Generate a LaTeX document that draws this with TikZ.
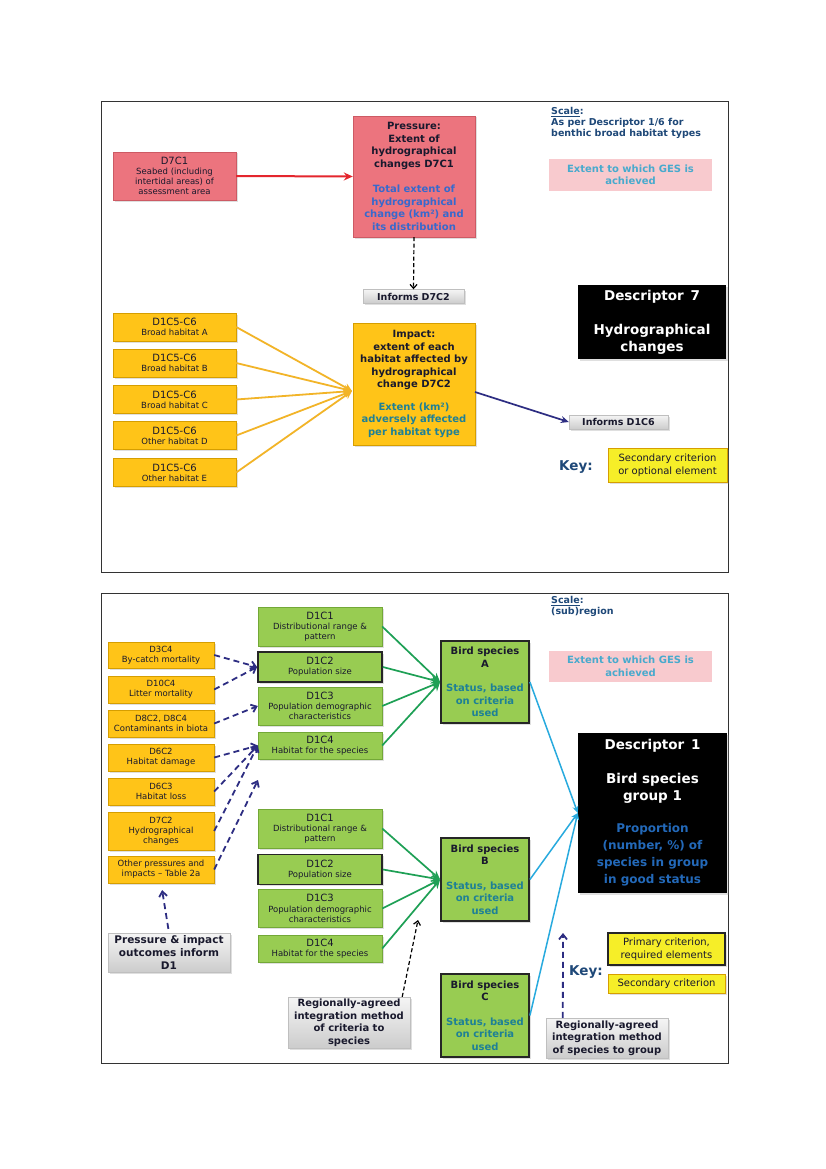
\documentclass[tikz,border=0pt]{standalone}
\usepackage{fontspec}
\setmainfont{DejaVu Sans}
\usetikzlibrary{arrows.meta,shadows}

\definecolor{ink}{RGB}{25,25,45}
\definecolor{salmon}{RGB}{236,116,126}
\definecolor{salmonline}{RGB}{205,90,100}
\definecolor{gold}{RGB}{255,196,24}
\definecolor{goldline}{RGB}{214,158,0}
\definecolor{leaf}{RGB}{152,204,82}
\definecolor{leafline}{RGB}{115,168,55}
\definecolor{gespink}{RGB}{248,202,206}
\definecolor{gesblue}{RGB}{72,170,205}
\definecolor{keyyellow}{RGB}{246,238,40}
\definecolor{scaleblue}{RGB}{30,72,120}
\definecolor{txtblue}{RGB}{55,105,205}
\definecolor{txtteal}{RGB}{30,128,150}
\definecolor{propblue}{RGB}{35,105,185}
\definecolor{arrred}{RGB}{228,38,45}
\definecolor{arrgold}{RGB}{242,180,40}
\definecolor{arrnavy}{RGB}{45,45,130}
\definecolor{arrgreen}{RGB}{30,160,85}
\definecolor{arrblue}{RGB}{40,170,222}

\newcommand\smtxt{\fontsize{8.5}{10.2}\selectfont}
\newcommand\mdtxt{\fontsize{10}{12.5}\selectfont}
\newcommand\lgtxt{\fontsize{13.5}{17}\selectfont}
\newcommand\bl[1]{\textcolor{txtblue}{#1}}
\newcommand\tl[1]{\textcolor{txtteal}{#1}}
\newcommand\pb[1]{\textcolor{propblue}{\fontsize{12}{16}\selectfont #1}}

\begin{document}
\begin{tikzpicture}[x=1pt,y=-1pt,
  sh/.style={drop shadow={shadow xshift=1.5pt,shadow yshift=-1.5pt,opacity=.25}},
  frame/.style={draw=black!80, line width=0.8pt},
  redbox/.style={sh, draw=salmonline, fill=salmon, text=ink, align=center, inner sep=1pt},
  goldbox/.style={sh, draw=goldline, fill=gold, text=ink, align=center, inner sep=1pt},
  critbox/.style={sh, draw=leafline, fill=leaf, text=ink, align=center, inner sep=1pt},
  birdbox/.style={sh, draw=black!85, line width=1.8pt, fill=leaf, text=ink, align=center, inner sep=1pt},
  blackbox/.style={sh, fill=black, text=white, align=center, inner sep=1pt},
  greybox/.style={sh, draw=gray!50, top color=gray!8, bottom color=gray!40, text=ink, align=center, inner sep=1pt},
  gesbox/.style={fill=gespink, text=gesblue, align=center, inner sep=1pt, font=\mdtxt\bfseries},
  keybox/.style={sh, draw=goldline, fill=keyyellow, text=ink, align=center, inner sep=1pt, font=\mdtxt},
  redarr/.style={draw=arrred, line width=2pt, -{Stealth[length=9pt,width=8pt]}},
  goldarr/.style={draw=arrgold, line width=1.8pt, -{Stealth[length=8pt,width=8pt]}},
  navyarr/.style={draw=arrnavy, line width=1.8pt, dash pattern=on 6pt off 4pt, -{Straight Barb[length=5pt,width=8pt]}},
  dasharr/.style={draw=black, line width=1.2pt, dash pattern=on 4pt off 2.5pt, -{Straight Barb[length=4pt,width=7pt]}},
  greenarr/.style={draw=arrgreen, line width=1.7pt, -{Stealth[length=9pt,width=8pt]}},
  bluearr/.style={draw=arrblue, line width=1.5pt, -{Stealth[length=7pt,width=6pt]}}]

\fill[white] (0,0) rectangle (826,1169);
\useasboundingbox (0,0) rectangle (826,1169);

% ---- top panel: descriptor 7 ----
\draw[frame] (101,101) rectangle (728,572);

\node[redbox, minimum width=123pt, minimum height=48pt, font=\smtxt] (d7c1) at (174.5,176) {{\mdtxt D7C1}\\Seabed (including\\intertidal areas) of\\assessment area};

\node[redbox, minimum width=122pt, minimum height=121pt, font=\mdtxt\bfseries] (pres) at (414,176.5) {Pressure:\\Extent of\\hydrographical\\changes D7C1\\[13pt]\bl{Total extent of}\\\bl{hydrographical}\\\bl{change (km²) and}\\\bl{its distribution}};

\node[greybox, minimum width=101pt, minimum height=14pt, font=\fontsize{9.5}{11}\selectfont\bfseries] (inf72) at (413.5,296.5) {Informs D7C2};

\node[anchor=north west, align=left, inner sep=0pt, text=scaleblue, font=\fontsize{9.5}{11}\selectfont\bfseries] (scl7) at (551,107) {\underline{Scale}:\\As per Descriptor 1/6 for\\benthic broad habitat types};

\node[gesbox, minimum width=163pt, minimum height=32pt] (ges7) at (630.5,175) {Extent to which GES is\\achieved};

\node[blackbox, minimum width=148pt, minimum height=74pt, font=\lgtxt\bfseries] (desc7) at (652,322) {Descriptor\enspace 7\\[17pt]Hydrographical\\changes};

\node[goldbox, minimum width=123pt, minimum height=28pt, font=\smtxt] (hab1) at (174.5,327) {{\mdtxt D1C5-C6}\\Broad habitat A};
\node[goldbox, minimum width=123pt, minimum height=28pt, font=\smtxt] (hab2) at (174.5,363) {{\mdtxt D1C5-C6}\\Broad habitat B};
\node[goldbox, minimum width=123pt, minimum height=28pt, font=\smtxt] (hab3) at (174.5,399.5) {{\mdtxt D1C5-C6}\\Broad habitat C};
\node[goldbox, minimum width=123pt, minimum height=28pt, font=\smtxt] (hab4) at (174.5,435.5) {{\mdtxt D1C5-C6}\\Other habitat D};
\node[goldbox, minimum width=123pt, minimum height=28pt, font=\smtxt] (hab5) at (174.5,472.5) {{\mdtxt D1C5-C6}\\Other habitat E};

\node[goldbox, minimum width=122pt, minimum height=122pt, font=\mdtxt\bfseries] (imp) at (414,384) {Impact:\\extent of each\\habitat affected by\\hydrographical\\change D7C2\\[10pt]\tl{Extent (km²)}\\\tl{adversely affected}\\\tl{per habitat type}};

\node[greybox, minimum width=99pt, minimum height=14pt, font=\fontsize{9.5}{11}\selectfont\bfseries] (inf16) at (618.5,422) {Informs D1C6};

\node[text=scaleblue, font=\lgtxt\bfseries, inner sep=0pt] (key7) at (576,467) {Key:};
\node[keybox, minimum width=119pt, minimum height=34pt] (sec7) at (667.5,465) {Secondary criterion\\or optional element};

\coordinate (impin) at (352,391);
\coordinate (impout) at (475,392);

\draw[redarr] (d7c1.east) -- (pres.west);
\draw[dasharr] (pres.south) -- (inf72.north);
\foreach \h in {hab1,hab2,hab3,hab4,hab5}
  \draw[goldarr] (\h.east) -- (impin);
\draw[draw=arrnavy, line width=1.7pt, -{Stealth[length=8pt,width=7pt]}] (impout) -- (inf16.west);

% ---- bottom panel: descriptor 1 ----
\draw[frame] (101,593) rectangle (728,1063);

\node[anchor=north west, align=left, inner sep=0pt, text=scaleblue, font=\fontsize{9.5}{11}\selectfont\bfseries] (scl1) at (551,596) {\underline{Scale}:\\(sub)region};

\node[gesbox, minimum width=163pt, minimum height=31pt] (ges1) at (630.5,666.5) {Extent to which GES is\\achieved};

% pressures
\node[goldbox, minimum width=106pt, minimum height=26pt, font=\smtxt] (p1) at (161,655) {D3C4\\By-catch mortality};
\node[goldbox, minimum width=106pt, minimum height=27pt, font=\smtxt] (p2) at (161,689.5) {D10C4\\Litter mortality};
\node[goldbox, minimum width=106pt, minimum height=27pt, font=\smtxt] (p3) at (161,723.5) {D8C2, D8C4\\Contaminants in biota};
\node[goldbox, minimum width=106pt, minimum height=27pt, font=\smtxt] (p4) at (161,757.5) {D6C2\\Habitat damage};
\node[goldbox, minimum width=106pt, minimum height=27pt, font=\smtxt] (p5) at (161,791.5) {D6C3\\Habitat loss};
\node[goldbox, minimum width=106pt, minimum height=38pt, font=\smtxt] (p6) at (161,831) {D7C2\\Hydrographical\\changes};
\node[goldbox, minimum width=106pt, minimum height=27pt, font=\smtxt] (p7) at (161,869.5) {Other pressures and\\impacts -- Table 2a};

\node[greybox, minimum width=122pt, minimum height=39pt, font=\fontsize{10.5}{13}\selectfont\bfseries] (pim) at (169,952.5) {Pressure \& impact\\outcomes inform\\D1};

% criteria, species A
\node[critbox, minimum width=124pt, minimum height=39pt, font=\smtxt] (c1a) at (320,626.5) {{\mdtxt D1C1}\\Distributional range \&\\pattern};
\node[critbox, draw=black!85, line width=1.8pt, minimum width=124pt, minimum height=30pt, font=\smtxt] (c2a) at (320,667) {{\mdtxt D1C2}\\Population size};
\node[critbox, minimum width=124pt, minimum height=38pt, font=\smtxt] (c3a) at (320,706) {{\mdtxt D1C3}\\Population demographic\\characteristics};
\node[critbox, minimum width=124pt, minimum height=27pt, font=\smtxt] (c4a) at (320,745.5) {{\mdtxt D1C4}\\Habitat for the species};

% criteria, species B
\node[critbox, minimum width=124pt, minimum height=39pt, font=\smtxt] (c1b) at (320,828.5) {{\mdtxt D1C1}\\Distributional range \&\\pattern};
\node[critbox, draw=black!85, line width=1.8pt, minimum width=124pt, minimum height=30pt, font=\smtxt] (c2b) at (320,869.5) {{\mdtxt D1C2}\\Population size};
\node[critbox, minimum width=124pt, minimum height=38pt, font=\smtxt] (c3b) at (320,908.5) {{\mdtxt D1C3}\\Population demographic\\characteristics};
\node[critbox, minimum width=124pt, minimum height=27pt, font=\smtxt] (c4b) at (320,948.5) {{\mdtxt D1C4}\\Habitat for the species};

\node[greybox, minimum width=122pt, minimum height=51pt, font=\mdtxt\bfseries] (rac) at (349,1022.5) {Regionally-agreed\\integration method\\of criteria to\\species};

% species
\node[birdbox, minimum width=88pt, minimum height=82pt, font=\mdtxt\bfseries] (birdA) at (485,682) {Bird species\\A\\[12pt]\tl{Status, based}\\\tl{on criteria}\\\tl{used}};
\node[birdbox, minimum width=88pt, minimum height=83pt, font=\mdtxt\bfseries] (birdB) at (485,879.5) {Bird species\\B\\[12pt]\tl{Status, based}\\\tl{on criteria}\\\tl{used}};
\node[birdbox, minimum width=88pt, minimum height=83pt, font=\mdtxt\bfseries] (birdC) at (485,1015.5) {Bird species\\C\\[12pt]\tl{Status, based}\\\tl{on criteria}\\\tl{used}};

\node[blackbox, minimum width=149pt, minimum height=160pt, font=\lgtxt\bfseries] (desc1) at (652.5,813) {Descriptor\enspace 1\\[17pt]Bird species\\group 1\\[15pt]\pb{Proportion}\\\pb{(number, \%) of}\\\pb{species in group}\\\pb{in good status}};

\node[greybox, minimum width=122pt, minimum height=40pt, font=\mdtxt\bfseries] (rsg) at (607,1038) {Regionally-agreed\\integration method\\of species to group};

\node[text=scaleblue, font=\lgtxt\bfseries, inner sep=0pt] (key1) at (586,972) {Key:};
\node[keybox, draw=black!85, line width=1.8pt, minimum width=117pt, minimum height=32pt] (prim1) at (666.5,949) {Primary criterion,\\required elements};
\node[keybox, minimum width=117pt, minimum height=19pt] (sec1) at (666.5,983.5) {Secondary criterion};

\coordinate (othend) at (258,780);
\coordinate (racend) at (418,920);
\coordinate (rsgend) at (563,933);

\draw[navyarr] (p1.east) -- (c2a.west);
\draw[navyarr] (p2.east) -- (c2a.west);
\draw[navyarr] (p3.east) -- (c3a.west);
\draw[navyarr] (p4.east) -- (c4a.west);
\draw[navyarr] (p5.east) -- (c4a.west);
\draw[navyarr] (p6.east) -- (c4a.west);
\draw[navyarr] (p7.east) -- (othend);
\draw[navyarr, shorten <=4pt, shorten >=7pt] (pim.north) -- (p7.south);

\foreach \c in {c1a,c2a,c3a,c4a}
  \draw[greenarr] (\c.east) -- (birdA.west);
\foreach \c in {c1b,c2b,c3b,c4b}
  \draw[greenarr] (\c.east) -- (birdB.west);
\foreach \b in {birdA,birdB,birdC}
  \draw[bluearr] (\b.east) -- (desc1.west);

\draw[dasharr] ([xshift=-8pt]rac.north east) -- (racend);
\draw[navyarr] ([xshift=17pt]rsg.north west) -- (rsgend);

\end{tikzpicture}
\end{document}
